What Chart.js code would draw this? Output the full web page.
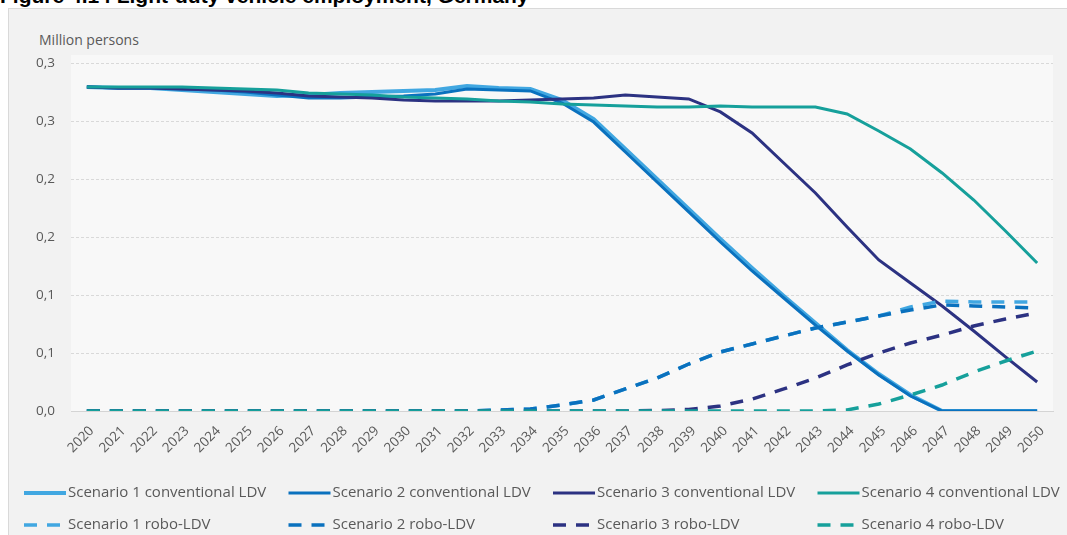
<!DOCTYPE html>
<html>
<head>
<meta charset="utf-8">
<script src="https://cdn.jsdelivr.net/npm/chart.js@4.4.1/dist/chart.umd.min.js"></script>
<style>
  html, body { margin: 0; padding: 0; background: #fff; overflow: hidden; }
  body { width: 1067px; height: 535px; position: relative; font-family: 'Open Sans', sans-serif; }
  #fig-title { position: absolute; left: 0; top: -16px; font: bold 21px 'Liberation Sans', Arial, sans-serif; line-height: 24px; color: #000; white-space: nowrap; }
  #panel { position: absolute; left: 8px; top: 8px; width: 1070px; height: 540px; background: #f2f2f2; border-left: 1px solid #d9d9d9; border-top: 1px solid #d9d9d9; }
  #unit { position: absolute; left: 39px; top: 30px; font-size: 14px; color: #595959; }
  #wrap { position: absolute; left: 0; top: 0; width: 1067px; height: 535px; }
</style>
</head>
<body>
<div id="fig-title">Figure 4.14 Light-duty vehicle employment, Germany</div>
<div id="panel"></div>
<div id="unit">Million persons</div>
<div id="wrap"><canvas id="ldv-chart"></canvas></div>
<script>
// Light-duty vehicle employment, million persons
const years = ['2020', '2021', '2022', '2023', '2024', '2025', '2026', '2027', '2028', '2029', '2030',
  '2031', '2032', '2033', '2034', '2035', '2036', '2037', '2038', '2039', '2040',
  '2041', '2042', '2043', '2044', '2045', '2046', '2047', '2048', '2049', '2050'];

const yTickLabels = ['0,0', '0,1', '0,1', '0,2', '0,2', '0,3', '0,3'];

const s1Conventional = [0.2793, 0.2784, 0.2784, 0.2767, 0.2750, 0.2733, 0.2716, 0.2724, 0.2741, 0.2750, 0.2759,
  0.2767, 0.2802, 0.2784, 0.2776, 0.2681, 0.2517, 0.2259, 0.2000, 0.1741, 0.1483,
  0.1233, 0.0991, 0.0759, 0.0526, 0.0319, 0.0138, 0, 0, 0, 0];
const s2Conventional = [0.2793, 0.2784, 0.2784, 0.2776, 0.2767, 0.2750, 0.2724, 0.2698, 0.2698, 0.2707, 0.2716,
  0.2733, 0.2776, 0.2767, 0.2759, 0.2655, 0.2491, 0.2233, 0.1974, 0.1716, 0.1457,
  0.1207, 0.0974, 0.0741, 0.0517, 0.0310, 0.0129, 0, 0, 0, 0];
const s3Conventional = [0.2793, 0.2784, 0.2784, 0.2776, 0.2767, 0.2759, 0.2741, 0.2716, 0.2707, 0.2698, 0.2681,
  0.2672, 0.2672, 0.2672, 0.2681, 0.2690, 0.2698, 0.2724, 0.2707, 0.2690, 0.2578,
  0.2397, 0.2138, 0.1879, 0.1586, 0.1302, 0.1103, 0.0905, 0.0690, 0.0466, 0.0250];
const s4Conventional = [0.2793, 0.2793, 0.2793, 0.2793, 0.2784, 0.2776, 0.2767, 0.2741, 0.2733, 0.2724, 0.2707,
  0.2698, 0.2690, 0.2672, 0.2664, 0.2647, 0.2638, 0.2629, 0.2621, 0.2621, 0.2629,
  0.2621, 0.2621, 0.2621, 0.2560, 0.2414, 0.2259, 0.2052, 0.1819, 0.1552, 0.1276];

const s1Robo = [0, 0, 0, 0, 0, 0, 0, 0, 0, 0, 0,
  0, 0, 0.0009, 0.0017, 0.0052, 0.0095, 0.0190, 0.0284, 0.0405, 0.0509,
  0.0578, 0.0647, 0.0716, 0.0767, 0.0819, 0.0897, 0.0948, 0.0940, 0.0940, 0.0940];
const s2Robo = [0, 0, 0, 0, 0, 0, 0, 0, 0, 0, 0,
  0, 0, 0.0009, 0.0017, 0.0052, 0.0095, 0.0190, 0.0284, 0.0405, 0.0509,
  0.0578, 0.0647, 0.0716, 0.0767, 0.0819, 0.0871, 0.0914, 0.0905, 0.0897, 0.0888];
const s3Robo = [0, 0, 0, 0, 0, 0, 0, 0, 0, 0, 0,
  0, 0, 0, 0, 0, 0, 0, 0.0004, 0.0013, 0.0043,
  0.0103, 0.0190, 0.0284, 0.0397, 0.0500, 0.0586, 0.0655, 0.0733, 0.0793, 0.0845];
const s4Robo = [0, 0, 0, 0, 0, 0, 0, 0, 0, 0, 0,
  0, 0, 0, 0, 0, 0, 0, 0, 0, 0,
  0, 0, 0, 0.0009, 0.0060, 0.0138, 0.0224, 0.0336, 0.0431, 0.0517];

const colors = ['#41a7e1', '#0a71be', '#2c3282', '#16a09b'];

function series(label, data, color, dashed, width, order) {
  return {
    label, data,
    borderColor: color,
    backgroundColor: color,
    borderWidth: width,
    borderDash: dashed ? [13, 10] : [],
    pointRadius: 0,
    tension: 0,
    fill: false,
    order
  };
}

// later series sit on top, as in the source workbook
const datasets = [
  series('Scenario 1 conventional LDV', s1Conventional, colors[0], false, 4, 8),
  series('Scenario 2 conventional LDV', s2Conventional, colors[1], false, 3, 7),
  series('Scenario 3 conventional LDV', s3Conventional, colors[2], false, 3, 6),
  series('Scenario 4 conventional LDV', s4Conventional, colors[3], false, 3, 5),
  series('Scenario 1 robo-LDV', s1Robo, colors[0], true, 3.5, 4),
  series('Scenario 2 robo-LDV', s2Robo, colors[1], true, 3.5, 3),
  series('Scenario 3 robo-LDV', s3Robo, colors[2], true, 3.5, 2),
  series('Scenario 4 robo-LDV', s4Robo, colors[3], true, 3.5, 1)
];

// lighter plot background, a bit taller than the axis range
const plotBackground = {
  id: 'plotBackground',
  beforeDraw(chart) {
    const { ctx, chartArea: a } = chart;
    ctx.save();
    ctx.fillStyle = '#f8f8f8';
    ctx.fillRect(a.left, a.top - 8, a.right - a.left, a.bottom - a.top + 8);
    ctx.restore();
  }
};

// four-column legend, two rows
const gridLegend = {
  id: 'gridLegend',
  afterDraw(chart) {
    const ctx = chart.ctx;
    chart.data.datasets.forEach((ds, i) => {
      const x = 24 + (i % 4) * 264.5;
      const y = 493 + Math.floor(i / 4) * 32;
      ctx.save();
      ctx.strokeStyle = ds.borderColor;
      ctx.lineWidth = ds.borderWidth;
      ctx.setLineDash(ds.borderDash);
      ctx.beginPath();
      ctx.moveTo(x, y);
      ctx.lineTo(x + 42, y);
      ctx.stroke();
      ctx.setLineDash([]);
      ctx.fillStyle = '#595959';
      ctx.font = '15px "Open Sans"';
      ctx.textBaseline = 'middle';
      ctx.fillText(ds.label, x + 44, y);
      ctx.restore();
    });
  }
};

new Chart(document.getElementById('ldv-chart'), {
  type: 'line',
  data: { labels: years, datasets },
  options: {
    responsive: true,
    maintainAspectRatio: false,
    animation: false,
    layout: { padding: { top: 63, right: 14, bottom: 64, left: 0 } },
    plugins: { legend: { display: false }, tooltip: { enabled: false } },
    scales: {
      x: {
        offset: true,
        grid: { display: false },
        border: { display: true, color: '#d4d4d4', width: 1 },
        ticks: {
          color: '#595959',
          font: { family: 'Open Sans', size: 13.5 },
          minRotation: 45,
          maxRotation: 45,
          autoSkip: false,
          labelOffset: 5,
          padding: 4
        },
        afterFit: s => { s.height = 60; }
      },
      y: {
        min: 0,
        max: 0.3,
        grid: { color: '#d9d9d9', lineWidth: 1, drawTicks: false },
        border: { display: false, dash: [3, 2] },
        ticks: {
          stepSize: 0.05,
          color: '#595959',
          font: { family: 'Open Sans', size: 13.5 },
          padding: 16,
          callback: (v, i) => yTickLabels[i]
        },
        afterFit: s => { s.width = 71; }
      }
    }
  },
  plugins: [plotBackground, gridLegend]
});
</script>
</body>
</html>
